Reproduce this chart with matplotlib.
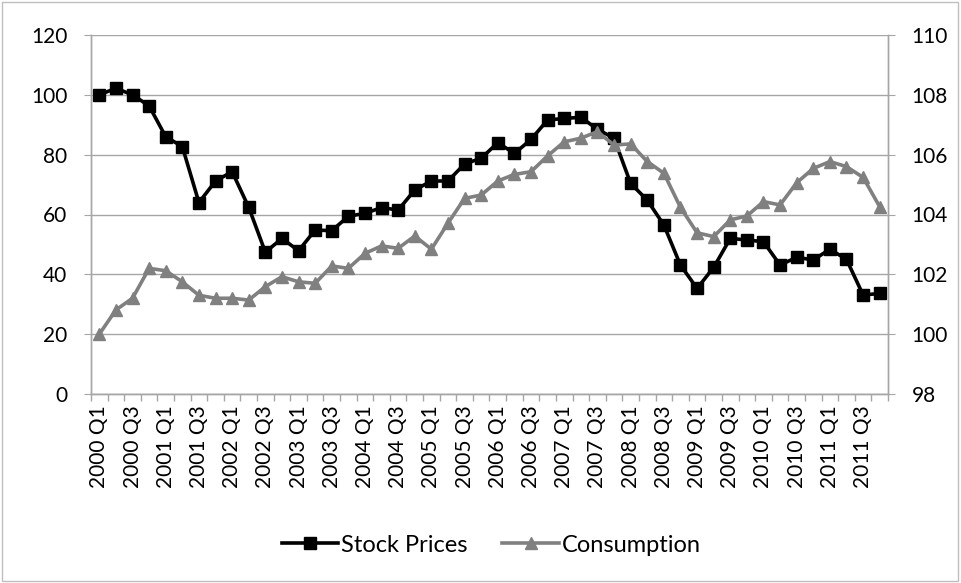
import matplotlib.pyplot as plt
from matplotlib.patches import Rectangle

plt.rcParams['font.family'] = ['Lato', 'DejaVu Sans']

years = list(range(2000, 2012))
quarters = [f"{y} Q{q}" for y in years for q in range(1, 5)]

stock_prices = [
    100, 102.2, 100, 96.3, 86, 82.7, 64, 71.2,
    74.3, 62.4, 47.4, 52, 47.9, 54.8, 54.6, 59.4,
    60.4, 62.3, 61.5, 68.2, 71.2, 71.2, 76.9, 78.8,
    84, 80.4, 85.1, 91.6, 92.1, 92.5, 88.5, 85.5,
    70.4, 64.8, 56.5, 43.1, 35.3, 42.3, 52, 51.5,
    50.9, 43.1, 45.7, 44.8, 48.4, 45, 33.1, 33.6,
]
consumption = [
    100, 100.81, 101.2, 102.2, 102.12, 101.75, 101.3, 101.2,
    101.2, 101.14, 101.59, 101.92, 101.75, 101.7, 102.28, 102.2,
    102.7, 102.95, 102.87, 103.28, 102.84, 103.71, 104.54, 104.65,
    105.12, 105.34, 105.43, 105.96, 106.43, 106.55, 106.77, 106.32,
    106.36, 105.77, 105.38, 104.24, 103.39, 103.26, 103.82, 103.95,
    104.43, 104.32, 105.06, 105.54, 105.77, 105.6, 105.24, 104.26,
]

left_ticks = [0, 20, 40, 60, 80, 100, 120]
right_ticks = [98, 100, 102, 104, 106, 108, 110]

grey = '#808080'
axis_grey = '#a6a6a6'

fig = plt.figure(figsize=(9.62, 5.83), dpi=100)
ax = fig.add_axes([91 / 962, 1 - 394 / 583, 797 / 962, 359 / 583])
ax2 = ax.twinx()

x = list(range(len(quarters)))
l1, = ax.plot(x, stock_prices, color='black', lw=2.6, marker='s',
              markersize=8, label='Stock Prices')
l2, = ax2.plot(x, consumption, color=grey, lw=2.6, marker='^',
               markersize=9, label='Consumption')

ax.set_xlim(-0.5, len(quarters) - 0.5)
ax.set_ylim(0, 120)
ax2.set_ylim(98, 110)
ax.set_yticks(left_ticks)
ax2.set_yticks(right_ticks)

ax.set_xticks(x[::2])
ax.set_xticklabels(quarters[::2], rotation=90)
ax.set_xticks([i - 0.5 for i in range(len(quarters) + 1)], minor=True)
ax.tick_params(axis='x', which='major', length=0, pad=8, labelsize=15)
ax.tick_params(axis='x', which='minor', length=5, color=axis_grey, width=1)
ax.tick_params(axis='y', length=5, color=axis_grey, labelsize=15, pad=12)
ax2.tick_params(axis='y', length=5, color=axis_grey, labelsize=15, pad=12)

ax.grid(axis='y', color=axis_grey, lw=1)
ax.set_axisbelow(True)
for a in (ax, ax2):
    a.spines['top'].set_visible(False)
    for s in ('left', 'right', 'bottom'):
        a.spines[s].set_color(axis_grey)
        a.spines[s].set_linewidth(1)

fig.legend(handles=[l1, l2], loc='center', bbox_to_anchor=(491 / 962, 1 - 545 / 583),
           ncol=2, frameon=False, fontsize=17, handlelength=2.4,
           handletextpad=0.1, columnspacing=1.5)

fig.patches.append(Rectangle((0.002, 0.003), 0.994, 0.994, transform=fig.transFigure,
                             fill=False, edgecolor='#bfbfbf', lw=1))

fig.savefig('out.png', dpi=100)
